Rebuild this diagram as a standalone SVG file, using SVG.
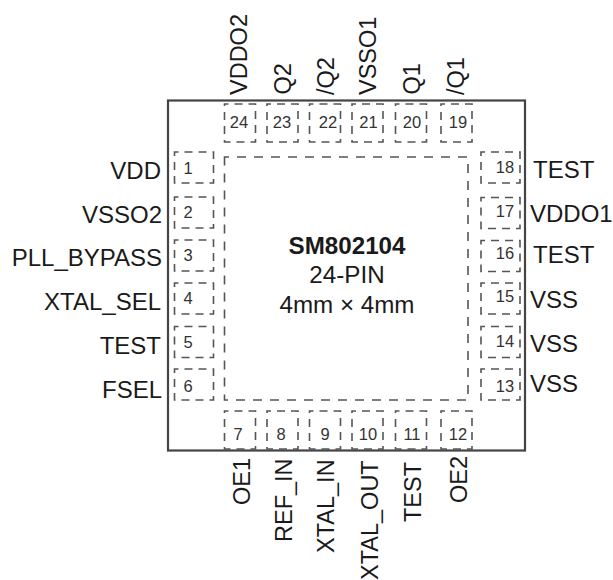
<svg xmlns="http://www.w3.org/2000/svg" width="613" height="580" viewBox="0 0 613 580">
<style>
text{font-family:"Liberation Sans",Arial,sans-serif;fill:#1a1a1a}
.l{font-size:23.5px}
.h{font-size:24px}
.n{font-size:16.5px;fill:#333;text-anchor:middle}
.c{font-size:24.2px;text-anchor:middle}
.p{fill:none;stroke:#555;stroke-width:1.6;stroke-dasharray:8 6;stroke-dashoffset:4}
.pad{fill:none;stroke:#555;stroke-width:1.6;stroke-dasharray:9 8;stroke-dashoffset:4.5}
.e{text-anchor:end}
</style>
<rect width="613" height="580" fill="#fff"/>
<g id="package"><rect x="168" y="100.500" width="357" height="350" fill="none" stroke="#444" stroke-width="2.200"/></g>
<g id="pad"><rect class="pad" x="224.500" y="157" width="243.500" height="243"/>
<text x="347" y="254" class="c" font-weight="bold">SM802104</text>
<text x="347" y="283" class="c">24-PIN</text>
<text x="347" y="313" class="c">4mm × 4mm</text></g>
<g id="pin1"><rect class="p" x="174.500" y="152" width="39" height="31"/><text class="n" x="188" y="174">1</text><text class="h e" x="161" y="179">VDD</text></g>
<g id="pin2"><rect class="p" x="174.500" y="197" width="39" height="31"/><text class="n" x="188" y="218">2</text><text class="h e" x="162" y="223">VSSO2</text></g>
<g id="pin3"><rect class="p" x="174.500" y="240" width="39" height="31"/><text class="n" x="188" y="261">3</text><text class="h e" x="162" y="266">PLL_BYPASS</text></g>
<g id="pin4"><rect class="p" x="174.500" y="283" width="39" height="31"/><text class="n" x="188" y="304">4</text><text class="h e" x="161" y="310">XTAL_SEL</text></g>
<g id="pin5"><rect class="p" x="174.500" y="326.500" width="39" height="31"/><text class="n" x="188" y="348">5</text><text class="h e" x="161" y="354">TEST</text></g>
<g id="pin6"><rect class="p" x="174.500" y="369" width="39" height="31"/><text class="n" x="188" y="392">6</text><text class="h e" x="162" y="398">FSEL</text></g>
<g id="pin7"><rect class="p" x="224.500" y="411" width="31" height="38"/><text class="n" x="238" y="440">7</text><text class="l" transform="translate(250,505) rotate(-90)">OE1</text></g>
<g id="pin8"><rect class="p" x="267" y="411" width="31" height="38"/><text class="n" x="281" y="440">8</text><text class="l" transform="translate(292,542) rotate(-90)">REF_IN</text></g>
<g id="pin9"><rect class="p" x="309.500" y="411" width="31" height="38"/><text class="n" x="325" y="440">9</text><text class="l" transform="translate(334,553) rotate(-90)">XTAL_IN</text></g>
<g id="pin10"><rect class="p" x="352" y="411" width="31" height="38"/><text class="n" x="368" y="440">10</text><text class="l" transform="translate(378,580) rotate(-90)">XTAL_OUT</text></g>
<g id="pin11"><rect class="p" x="395.500" y="411" width="31" height="38"/><text class="n" x="412" y="440">11</text><text class="l" transform="translate(421,522) rotate(-90)">TEST</text></g>
<g id="pin12"><rect class="p" x="441" y="411" width="31" height="38"/><text class="n" x="458" y="440">12</text><text class="l" transform="translate(467,503) rotate(-90)">OE2</text></g>
<g id="pin13"><rect class="p" x="481" y="369" width="39" height="31"/><text class="n" x="505" y="392">13</text><text class="h" x="530" y="392">VSS</text></g>
<g id="pin14"><rect class="p" x="481" y="326.500" width="39" height="31"/><text class="n" x="505" y="347">14</text><text class="h" x="530" y="352">VSS</text></g>
<g id="pin15"><rect class="p" x="481" y="283" width="39" height="31"/><text class="n" x="505" y="302">15</text><text class="h" x="530" y="308">VSS</text></g>
<g id="pin16"><rect class="p" x="481" y="240.500" width="39" height="31"/><text class="n" x="505" y="259">16</text><text class="h" x="533" y="263">TEST</text></g>
<g id="pin17"><rect class="p" x="481" y="197.500" width="39" height="31"/><text class="n" x="505" y="217">17</text><text class="h" x="530" y="222">VDDO1</text></g>
<g id="pin18"><rect class="p" x="481" y="152" width="39" height="31"/><text class="n" x="505" y="173">18</text><text class="h" x="533" y="178">TEST</text></g>
<g id="pin19"><rect class="p" x="441" y="104" width="31" height="38"/><text class="n" x="458" y="128">19</text><text class="l" transform="translate(464,95) rotate(-90)">/Q1</text></g>
<g id="pin20"><rect class="p" x="395.500" y="104" width="31" height="38"/><text class="n" x="412" y="128">20</text><text class="l" transform="translate(420,94.500) rotate(-90)">Q1</text></g>
<g id="pin21"><rect class="p" x="352" y="104" width="31" height="38"/><text class="n" x="368.500" y="128">21</text><text class="l" transform="translate(376,95) rotate(-90)">VSSO1</text></g>
<g id="pin22"><rect class="p" x="309.500" y="104" width="31" height="38"/><text class="n" x="328" y="128">22</text><text class="l" transform="translate(334,95) rotate(-90)">/Q2</text></g>
<g id="pin23"><rect class="p" x="267" y="104" width="31" height="38"/><text class="n" x="282" y="128">23</text><text class="l" transform="translate(291,94.500) rotate(-90)">Q2</text></g>
<g id="pin24"><rect class="p" x="224.500" y="104" width="31" height="38"/><text class="n" x="239" y="128">24</text><text class="l" transform="translate(247,95) rotate(-90)">VDDO2</text></g>
</svg>
